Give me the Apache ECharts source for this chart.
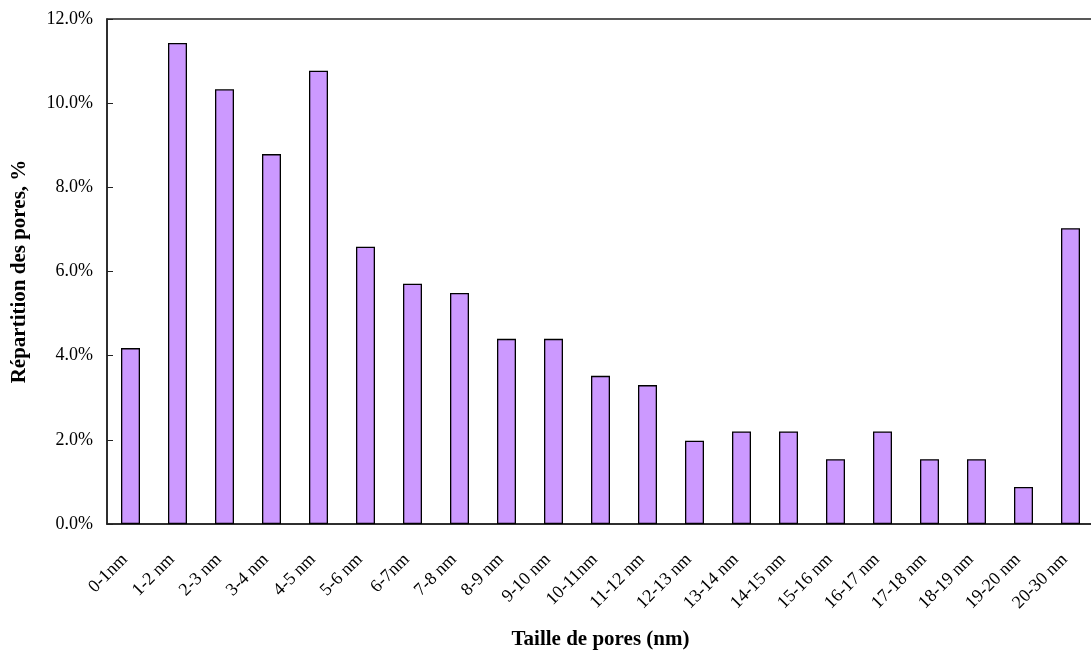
<!DOCTYPE html>
<html>
<head>
<meta charset="utf-8">
<script src="https://cdn.jsdelivr.net/npm/echarts@6/dist/echarts.min.js"></script>
<style>
html,body{margin:0;padding:0;background:#fff;}
#chart{width:1091px;height:651px;}
</style>
</head>
<body>
<div id="chart"></div>
<script>
const categories = ["0-1nm","1-2 nm","2-3 nm","3-4 nm","4-5 nm","5-6 nm","6-7nm","7-8 nm","8-9 nm","9-10 nm","10-11nm","11-12 nm","12-13 nm","13-14 nm","14-15 nm","15-16 nm","16-17 nm","17-18 nm","18-19 nm","19-20 nm","20-30 nm"];
const values = [4.18, 11.43, 10.33, 8.79, 10.77, 6.59, 5.71, 5.49, 4.40, 4.40, 3.52, 3.30, 1.98, 2.20, 2.20, 1.54, 2.20, 1.54, 1.54, 0.88, 7.03];
const yTicks = { min: 0, max: 12, interval: 2 };

const FONT = '"Liberation Serif", "DejaVu Serif", serif';
const chart = echarts.init(document.getElementById('chart'), null, { renderer: 'canvas' });
chart.setOption({
  animation: false,
  backgroundColor: '#fff',
  grid: { left: 107, top: 19, width: 987, height: 505, outerBoundsMode: 'none', containLabel: false, show: true, borderColor: '#222', borderWidth: 1.5, backgroundColor: 'transparent' },
  xAxis: {
    type: 'category',
    data: categories,
    name: 'Taille de pores (nm)',
    nameLocation: 'middle',
    nameGap: 105,
    nameTextStyle: { fontFamily: FONT, fontSize: 21, fontWeight: 'bold', color: '#000' },
    axisLine: { lineStyle: { color: '#222', width: 1.5 } },
    axisTick: { inside: true, length: 6, alignWithLabel: false, lineStyle: { color: '#222', width: 1 } },
    axisLabel: { rotate: 45, margin: 27, padding: [0, 8, 8, 0], fontFamily: FONT, fontSize: 18, color: '#000', interval: 0 },
    splitLine: { show: false }
  },
  yAxis: {
    type: 'value',
    min: yTicks.min, max: yTicks.max, interval: yTicks.interval,
    name: 'Répartition des pores, %',
    nameLocation: 'middle',
    nameGap: 77,
    nameTextStyle: { fontFamily: FONT, fontSize: 21, fontWeight: 'bold', color: '#000' },
    axisLine: { show: true, lineStyle: { color: '#222', width: 1.5 } },
    axisTick: { show: true, inside: true, length: 6, lineStyle: { color: '#222', width: 1 } },
    axisLabel: { margin: 14, fontFamily: FONT, fontSize: 18, color: '#000', formatter: v => v.toFixed(1) + '%' },
    splitLine: { show: false }
  },
  series: [{
    type: 'bar',
    data: values,
    barWidth: 19,
    itemStyle: { color: '#CC99FF', borderColor: '#000', borderWidth: 1.3 }
  }]
});
</script>
</body>
</html>
